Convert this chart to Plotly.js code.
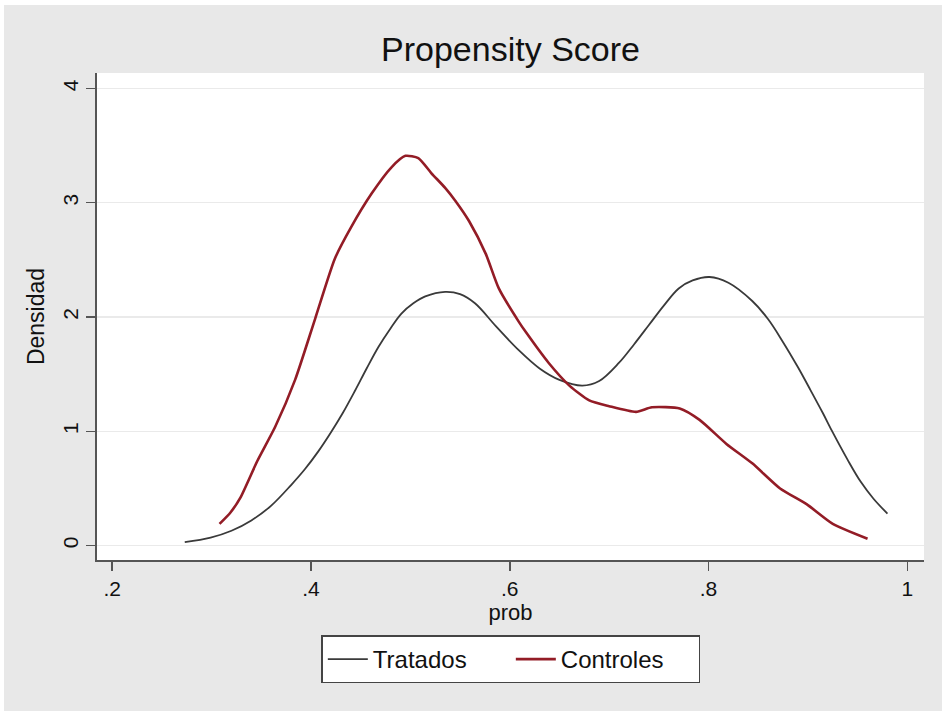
<!DOCTYPE html>
<html>
<head>
<meta charset="utf-8">
<script src="https://cdn.plot.ly/plotly-3.0.1.min.js"></script>
<style>
html,body{margin:0;padding:0;background:#ffffff;width:942px;height:711px;overflow:hidden;}
#chart{position:absolute;left:4px;top:5px;width:938px;height:706px;}
</style>
</head>
<body>
<div id="chart"></div>
<script>
// Tratados (treated) density
const tratadosX = [0.273,0.299,0.320,0.340,0.360,0.380,0.394,0.407,0.420,0.432,0.444,0.456,0.468,0.480,0.491,0.503,0.515,0.535,0.550,0.565,0.586,0.609,0.630,0.650,0.673,0.690,0.710,0.725,0.740,0.755,0.770,0.784,0.801,0.820,0.844,0.860,0.875,0.890,0.902,0.915,0.925,0.940,0.953,0.966,0.980];
const tratadosY = [0.03,0.07,0.13,0.22,0.35,0.53,0.67,0.82,0.99,1.16,1.35,1.55,1.74,1.90,2.03,2.12,2.18,2.22,2.20,2.12,1.92,1.71,1.55,1.45,1.40,1.44,1.60,1.76,1.93,2.10,2.25,2.32,2.35,2.30,2.14,1.98,1.78,1.56,1.37,1.16,0.99,0.75,0.56,0.41,0.28];
// Controles (controls) density
const controlesX = [0.308,0.319,0.329,0.346,0.364,0.384,0.404,0.424,0.440,0.461,0.481,0.495,0.508,0.521,0.535,0.545,0.559,0.576,0.589,0.609,0.616,0.639,0.660,0.680,0.700,0.727,0.743,0.771,0.791,0.818,0.844,0.872,0.899,0.925,0.960];
const controlesY = [0.19,0.29,0.42,0.74,1.04,1.45,1.98,2.51,2.78,3.08,3.31,3.41,3.39,3.26,3.13,3.02,2.84,2.55,2.25,1.96,1.87,1.60,1.40,1.27,1.22,1.17,1.21,1.20,1.10,0.89,0.72,0.50,0.36,0.19,0.06];
const xTickVals = [0.2,0.4,0.6,0.8,1];
const xTickText = ['.2','.4','.6','.8','1'];
const yTickVals = [0,1,2,3,4];
const yTickText = ['0','1','2','3','4'];

const FONT = 'Liberation Sans, Arial, Helvetica, sans-serif';

const traces = [
  {x: tratadosX, y: tratadosY, type: 'scatter', mode: 'lines', name: 'Tratados',
   line: {color: '#3a3a3a', width: 1.8, shape: 'spline', smoothing: 1}},
  {x: controlesX, y: controlesY, type: 'scatter', mode: 'lines', name: 'Controles',
   line: {color: '#931c26', width: 2.6, shape: 'spline', smoothing: 0.6}}
];

const layout = {
  width: 938, height: 706,
  margin: {l: 93, r: 18, t: 68, b: 151},
  paper_bgcolor: '#e8e8e8',
  plot_bgcolor: '#ffffff',
  font: {family: FONT, color: '#111111', size: 21},
  title: {text: 'Propensity Score', font: {family: FONT, size: 34, color: '#111111'},
          x: 0.5, xref: 'paper', y: 0.938, yref: 'container', yanchor: 'middle'},
  showlegend: true,
  legend: {orientation: 'h', x: 0.5004, xanchor: 'center', y: -0.155, yanchor: 'top',
           bgcolor: '#ffffff', bordercolor: '#444444', borderwidth: 1.5,
           font: {family: FONT, size: 24, color: '#111111'}, itemwidth: 40,
           entrywidth: 133, entrywidthmode: 'pixels',
           traceorder: 'normal'},
  xaxis: {
    range: [0.1847, 1.0168], tickmode: 'array', tickvals: xTickVals, ticktext: xTickText,
    showgrid: false, zeroline: false, showline: true, linecolor: '#555555', linewidth: 1.8,
    ticks: 'outside', ticklen: 9, tickwidth: 1.5, tickcolor: '#555555',
    tickfont: {family: FONT, size: 21, color: '#111111'},
    title: {text: 'prob', font: {family: FONT, size: 22, color: '#111111'}, standoff: 3},
    fixedrange: true
  },
  yaxis: {
    range: [-0.126, 4.135], tickmode: 'array', tickvals: yTickVals, ticktext: yTickText,
    showgrid: true, gridcolor: '#eaeaea', gridwidth: 1.5, zeroline: false,
    showline: true, linecolor: '#555555', linewidth: 1.8,
    ticks: 'outside', ticklen: 9, tickwidth: 1.5, tickcolor: '#555555',
    tickangle: -90,
    tickfont: {family: FONT, size: 21, color: '#111111'},
    title: {text: 'Densidad', font: {family: FONT, size: 23, color: '#111111'}, standoff: 8},
    fixedrange: true
  }
};

Plotly.newPlot('chart', traces, layout, {displayModeBar: false, staticPlot: true});
</script>
</body>
</html>
